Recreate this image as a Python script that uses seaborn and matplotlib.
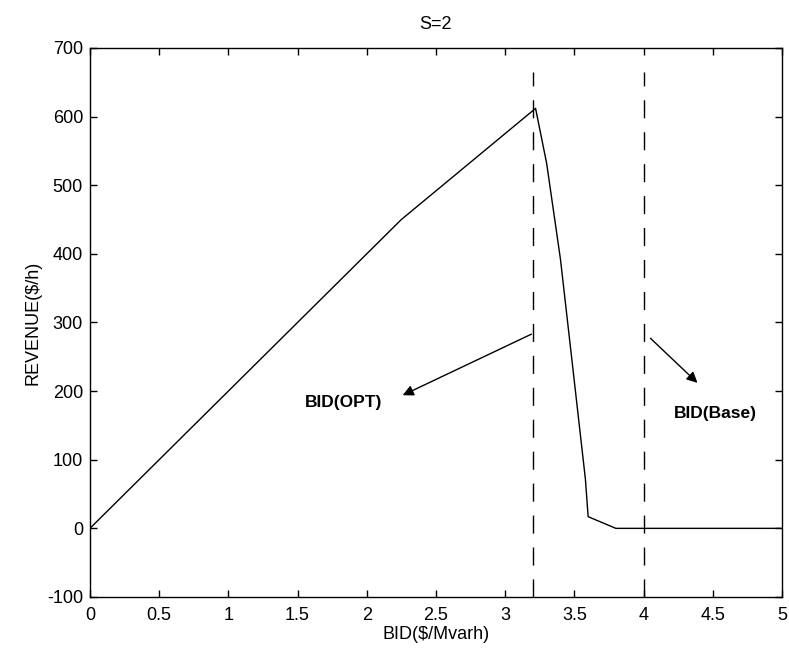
import matplotlib
matplotlib.use("Agg")
import matplotlib.pyplot as plt
import seaborn as sns
import pandas as pd

# Revenue curve versus bid price
bid = [0.0, 2.25, 3.22, 3.30, 3.40, 3.48, 3.58, 3.60, 3.80, 5.00]
revenue = [0, 450, 612, 532, 392, 250, 72, 17, 0, 0]

# Reference bid levels (vertical dashed markers)
bid_opt = 3.2
bid_base = 4.0
marker_span = [-100, 665]

# Axis ticks
x_ticks = [0, 0.5, 1, 1.5, 2, 2.5, 3, 3.5, 4, 4.5, 5]
x_tick_labels = ["0", "0.5", "1", "1.5", "2", "2.5", "3", "3.5", "4", "4.5", "5"]
y_ticks = [-100, 0, 100, 200, 300, 400, 500, 600, 700]

sns.set_style("ticks")
plt.rcParams["font.family"] = ["Liberation Sans", "DejaVu Sans"]
plt.rcParams["axes.unicode_minus"] = False
plt.rcParams["text.color"] = "black"
plt.rcParams["axes.labelcolor"] = "black"

fig = plt.figure(figsize=(7.89, 6.53), dpi=100)
ax = fig.add_axes([0.114, 0.0858, 0.877, 0.8407])

df = pd.DataFrame({"bid": bid, "revenue": revenue})
sns.lineplot(data=df, x="bid", y="revenue", sort=False, color="black",
             linewidth=1.0, ax=ax, estimator=None)

for xv in (bid_opt, bid_base):
    ax.plot([xv, xv], marker_span, color="black", linewidth=1.0,
            dashes=(13, 10))

arrow_kw = dict(arrowstyle="-|>", color="black", lw=1.0, mutation_scale=16,
                shrinkA=0, shrinkB=0)
ax.annotate("", xy=(2.26, 194), xytext=(3.19, 283), arrowprops=arrow_kw)
ax.annotate("", xy=(4.39, 212), xytext=(4.05, 277), arrowprops=arrow_kw)

ax.text(1.83, 183, "BID(OPT)", ha="center", va="center", fontsize=12.5,
        fontweight="bold", color="black")
ax.text(4.52, 168, "BID(Base)", ha="center", va="center", fontsize=12.5,
        fontweight="bold", color="black")

ax.set_xlim(0, 5)
ax.set_ylim(-100, 700)
ax.set_xticks(x_ticks)
ax.set_xticklabels(x_tick_labels)
ax.set_yticks(y_ticks)

ax.tick_params(direction="in", length=5, width=1, top=True, right=True,
               labelsize=13, colors="black")
ax.tick_params(axis="x", pad=7)
ax.tick_params(axis="y", pad=5)
for sp in ax.spines.values():
    sp.set_visible(True)
    sp.set_linewidth(1.0)
    sp.set_color("black")

ax.set_xlabel("BID($/Mvarh)", fontsize=13, labelpad=2, color="black")
ax.set_ylabel("REVENUE($/h)", fontsize=13, labelpad=4, color="black")
ax.set_title("S=2", fontsize=13, pad=14, color="black")

fig.savefig("out.png", dpi=100, facecolor="white")
